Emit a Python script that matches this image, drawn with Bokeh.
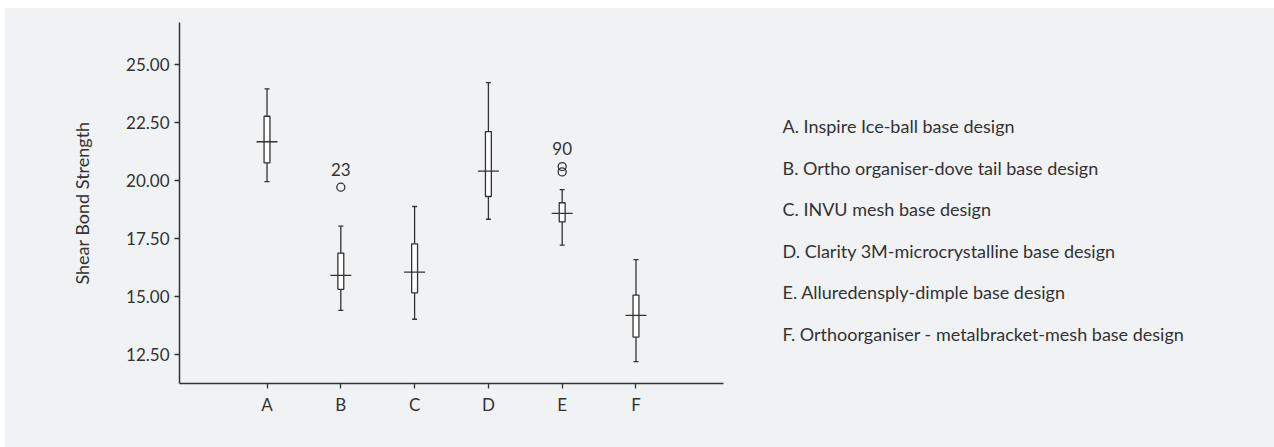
from bokeh.plotting import figure
from bokeh.layouts import row
from bokeh.models import FactorRange, Range1d, FixedTicker, NumeralTickFormatter
from bokeh.core.properties import value
from bokeh.embed import file_html
from bokeh.resources import INLINE

# ---- data ----
categories = ["A", "B", "C", "D", "E", "F"]
whisker_low = [19.95, 14.40, 14.02, 18.33, 17.21, 12.19]
q1 = [20.76, 15.31, 15.16, 19.31, 18.22, 13.25]
median = [21.67, 15.91, 16.05, 20.40, 18.58, 14.19]
q3 = [22.77, 16.87, 17.27, 22.11, 19.04, 15.06]
whisker_high = [23.95, 18.03, 18.88, 24.22, 19.61, 16.59]

outlier_cat = ["B", "E", "E"]
outlier_val = [19.71, 20.60, 20.37]
outlier_label_cat = ["B", "E"]
outlier_label_val = [19.71, 20.60]
outlier_labels = ["23", "90"]

y_ticks = [12.5, 15.0, 17.5, 20.0, 22.5, 25.0]
legend_texts = [
    "A. Inspire Ice-ball base design",
    "B. Ortho organiser-dove tail base design",
    "C. INVU mesh base design",
    "D. Clarity 3M-microcrystalline base design",
    "E. Alluredensply-dimple base design",
    "F. Orthoorganiser - metalbracket-mesh base design",
]
legend_rows = list(range(len(legend_texts)))

BG = "#f1f2f4"
INK = "#333333"
FONT = "Lato"
FS = "17px"

p = figure(
    width=755, height=439,
    x_range=FactorRange(factors=categories, range_padding=0.686, range_padding_units="absolute"),
    y_range=Range1d(11.25, 26.81),
    output_backend="svg", toolbar_location=None,
    min_border_left=174, min_border_top=14, min_border_bottom=64, min_border_right=37,
    background_fill_color=None, border_fill_color=None,
)
p.margin = 0
p.outline_line_color = None
p.grid.grid_line_color = None

# whiskers
p.segment(x0=categories, y0=whisker_low, x1=categories, y1=q1, line_color=INK, line_width=1.3)
p.segment(x0=categories, y0=q3, x1=categories, y1=whisker_high, line_color=INK, line_width=1.3)
# caps
p.scatter(x=categories, y=whisker_low, marker="dash", size=5, line_color=INK, line_width=1.3)
p.scatter(x=categories, y=whisker_high, marker="dash", size=5, line_color=INK, line_width=1.3)
# boxes
p.vbar(x=categories, bottom=q1, top=q3, width=0.08, fill_color="white", line_color=INK, line_width=1.3)
# medians
p.scatter(x=categories, y=median, marker="dash", size=21, line_color=INK, line_width=1.3)
# outliers
p.scatter(x=outlier_cat, y=outlier_val, marker="circle", size=8, fill_color=None,
          line_color=INK, line_width=1.3)
p.text(x=outlier_label_cat, y=outlier_label_val, text=outlier_labels, y_offset=-18,
       text_align="center", text_baseline="middle", text_font=value(FONT),
       text_font_size=FS, text_color=INK)

# axes
for ax in (p.xaxis[0], p.yaxis[0]):
    ax.axis_line_color = INK
    ax.axis_line_width = 1.5
    ax.major_tick_line_color = INK
    ax.major_tick_line_width = 1.3
    ax.major_tick_in = 0
    ax.major_tick_out = 5
    ax.minor_tick_line_color = None
    ax.major_label_text_font = FONT
    ax.major_label_text_font_size = FS
    ax.major_label_text_color = INK

p.yaxis.ticker = FixedTicker(ticks=y_ticks)
p.yaxis.formatter = NumeralTickFormatter(format="0.00")
p.yaxis.axis_label = "Shear Bond Strength"
p.yaxis.axis_label_text_font = FONT
p.yaxis.axis_label_text_font_size = "18px"
p.yaxis.axis_label_text_font_style = "normal"
p.yaxis.axis_label_text_color = INK
p.yaxis.axis_label_standoff = 30
p.yaxis.major_label_standoff = 5
p.xaxis.major_label_standoff = 5

# descriptions panel on the right
p2 = figure(
    width=514, height=439,
    x_range=Range1d(0, 492), y_range=Range1d(6.199, -2.508),
    output_backend="svg", toolbar_location=None,
    x_axis_location=None, y_axis_location=None,
    min_border_left=22, min_border_top=14, min_border_bottom=64, min_border_right=0,
    background_fill_color=None, border_fill_color=None,
)
p2.margin = 0
p2.outline_line_color = None
p2.grid.grid_line_color = None
p2.text(x=[0] * len(legend_texts), y=legend_rows, text=legend_texts,
        text_align="left", text_baseline="middle", text_font=value(FONT),
        text_font_size="18px", text_color=INK)

layout = row(p, p2, margin=(8, 0, 0, 5), styles={"background-color": BG})
open("out.html", "w").write(file_html(layout, INLINE))
